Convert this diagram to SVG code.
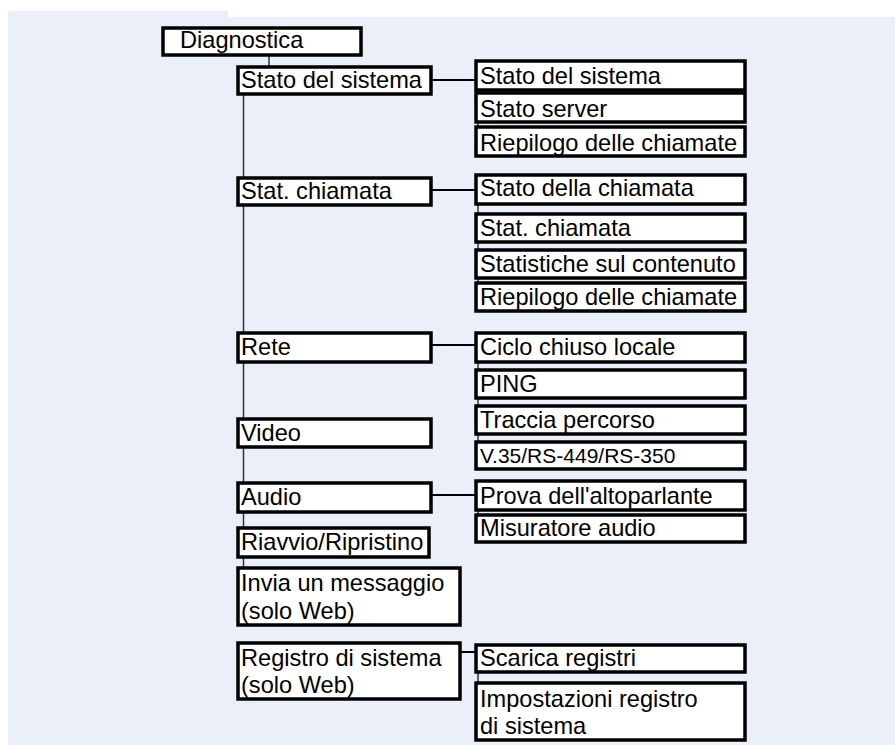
<svg xmlns="http://www.w3.org/2000/svg" width="895" height="745" viewBox="0 0 895 745">
<style>
.box{fill:#fff;stroke:#000;stroke-width:3.5}
.t{font-family:"Liberation Sans",Arial,sans-serif;font-size:23.6px;fill:#000}
.s{font-family:"Liberation Sans",Arial,sans-serif;font-size:21px;fill:#000}
.c{stroke:#000;stroke-width:2;fill:none}
.v{stroke:#333;stroke-width:1.5;fill:none}
</style>
<rect width="895" height="745" fill="#fff"/>
<path d="M8 11H228V17H895V745H8Z" fill="#EBEFF9"/>
<g id="connectors">
<line class="v" x1="269" y1="55" x2="269" y2="67"/>
<line class="v" x1="243.5" y1="94" x2="243.5" y2="568"/>
<line class="c" x1="431" y1="80" x2="476" y2="80"/>
<line class="c" x1="431" y1="190" x2="476" y2="190"/>
<line class="c" x1="431" y1="345" x2="476" y2="345"/>
<line class="c" x1="431" y1="495" x2="476" y2="495"/>
<line class="c" x1="460" y1="652" x2="476" y2="652"/>
<line class="v" x1="478" y1="61" x2="478" y2="156"/>
<line class="v" x1="478" y1="175" x2="478" y2="311"/>
<line class="v" x1="478" y1="333" x2="478" y2="469"/>
<line class="v" x1="478" y1="481" x2="478" y2="542"/>
<line class="v" x1="478" y1="645" x2="478" y2="740"/>
</g>
<g id="diagnostica"><rect class="box" x="163" y="28" width="198" height="27"/><text class="t" x="180" y="48">Diagnostica</text></g>
<g id="stato-sistema"><rect class="box" x="238" y="67" width="193" height="27"/><text class="t" x="241" y="88">Stato del sistema</text></g>
<g id="stat-chiamata"><rect class="box" x="238" y="178" width="193" height="27"/><text class="t" x="241" y="199">Stat. chiamata</text></g>
<g id="rete"><rect class="box" x="238" y="333" width="193" height="29"/><text class="t" x="241" y="355">Rete</text></g>
<g id="video"><rect class="box" x="238" y="419" width="193" height="28"/><text class="t" x="241" y="441">Video</text></g>
<g id="audio"><rect class="box" x="238" y="483" width="193" height="29"/><text class="t" x="241" y="505">Audio</text></g>
<g id="riavvio"><rect class="box" x="238" y="528" width="191" height="29"/><text class="t" x="241" y="550">Riavvio/Ripristino</text></g>
<g id="invia"><rect class="box" x="238" y="568" width="222" height="57"/><text class="t" x="241" y="591">Invia un messaggio</text><text class="t" x="241" y="619">(solo Web)</text></g>
<g id="registro"><rect class="box" x="238" y="643" width="222" height="56"/><text class="t" x="241" y="666">Registro di sistema</text><text class="t" x="241" y="693">(solo Web)</text></g>
<g id="c-stato-sistema"><rect class="box" x="476" y="61" width="269" height="29"/><text class="t" x="480" y="84">Stato del sistema</text></g>
<g id="c-stato-server"><rect class="box" x="476" y="93" width="269" height="29"/><text class="t" x="480" y="117">Stato server</text></g>
<g id="c-riepilogo1"><rect class="box" x="476" y="127" width="269" height="29"/><text class="t" x="480" y="151">Riepilogo delle chiamate</text></g>
<g id="c-stato-chiamata"><rect class="box" x="476" y="175" width="269" height="29"/><text class="t" x="480" y="196">Stato della chiamata</text></g>
<g id="c-stat-chiamata"><rect class="box" x="476" y="214" width="269" height="28"/><text class="t" x="480" y="236">Stat. chiamata</text></g>
<g id="c-statistiche"><rect class="box" x="476" y="250" width="269" height="28"/><text class="t" x="480" y="272">Statistiche sul contenuto</text></g>
<g id="c-riepilogo2"><rect class="box" x="476" y="283" width="269" height="28"/><text class="t" x="480" y="305">Riepilogo delle chiamate</text></g>
<g id="c-ciclo"><rect class="box" x="476" y="333" width="269" height="29"/><text class="t" x="480" y="355">Ciclo chiuso locale</text></g>
<g id="c-ping"><rect class="box" x="476" y="370" width="269" height="28"/><text class="t" x="480" y="392">PING</text></g>
<g id="c-traccia"><rect class="box" x="476" y="406" width="269" height="28"/><text class="t" x="480" y="428">Traccia percorso</text></g>
<g id="c-v35"><rect class="box" x="476" y="442" width="269" height="27"/><text class="s" x="480" y="463">V.35/RS-449/RS-350</text></g>
<g id="c-prova"><rect class="box" x="476" y="481" width="269" height="29"/><text class="t" x="480" y="504">Prova dell'altoparlante</text></g>
<g id="c-misuratore"><rect class="box" x="476" y="515" width="269" height="27"/><text class="t" x="480" y="536">Misuratore audio</text></g>
<g id="c-scarica"><rect class="box" x="476" y="645" width="269" height="27"/><text class="t" x="480" y="666">Scarica registri</text></g>
<g id="c-impostazioni"><rect class="box" x="476" y="683" width="269" height="57"/><text class="t" x="480" y="707">Impostazioni registro</text><text class="t" x="480" y="734">di sistema</text></g>
</svg>
